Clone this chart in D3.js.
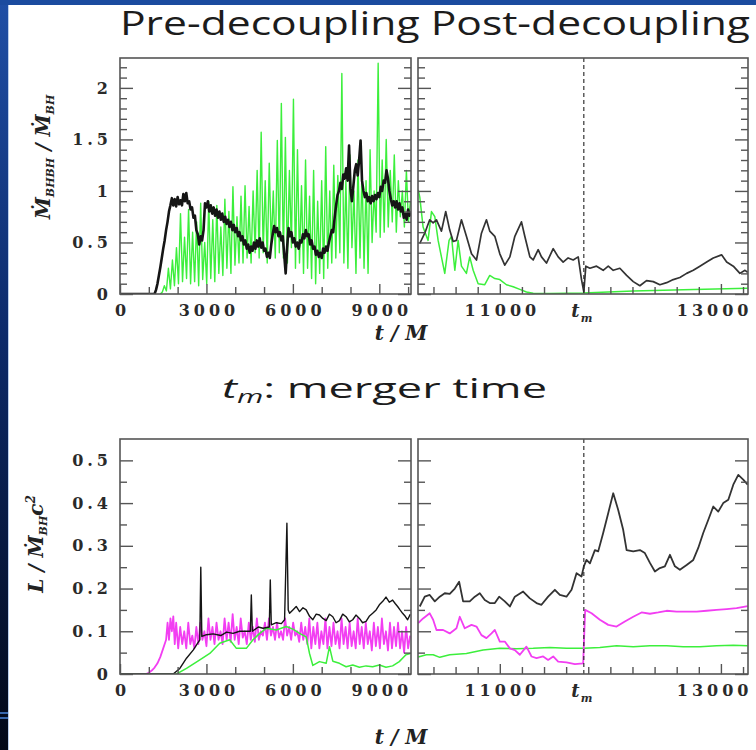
<!DOCTYPE html>
<html><head><meta charset="utf-8">
<script src="https://cdn.jsdelivr.net/npm/d3@7"></script>
<style>body{margin:0;background:#fff;overflow:hidden}</style>
</head><body><svg id="c" width="756" height="750"></svg>
<script>
// ---- time of merger ----
const tMerger = 11760;

// ---- axis ticks ----
const preMajorTicks = [0, 3000, 6000, 9000];
const preMinorTicks = [1000, 2000, 4000, 5000, 7000, 8000, 10000];
const postLabelTicks = [11000, 13000];
const postMinorTicks = [10400, 10600, 10800, 11200, 11400, 11600, 11800, 12000, 12200, 12400, 12600, 12800, 13200];
const accMajorTicks = [0, 0.5, 1, 1.5, 2];
const accMinorTicks = [0.1, 0.2, 0.3, 0.4, 0.6, 0.7, 0.8, 0.9, 1.1, 1.2, 1.3, 1.4, 1.6, 1.7, 1.8, 1.9, 2.1, 2.2];
const lumMajorTicks = [0, 0.1, 0.2, 0.3, 0.4, 0.5];
const lumMinorTicks = [0.05, 0.15, 0.25, 0.35, 0.45];

// ---- accretion rate ratio, pre-decoupling ----
const accBlackPre = [[0,0],[1200,0],[1250,0.04],[1300,0.1],[1350,0.18],[1400,0.26],[1450,0.35],[1500,0.44],[1550,0.52],[1600,0.62],[1650,0.7],[1700,0.8],[1750,0.86],[1800,0.93],[1850,0.86],[1900,0.92],[1950,0.85],[2000,0.94],[2050,0.87],[2100,0.91],[2150,0.86],[2200,0.97],[2250,0.9],[2300,0.98],[2350,0.88],[2400,0.9],[2450,0.82],[2500,0.84],[2550,0.74],[2600,0.76],[2650,0.62],[2700,0.58],[2750,0.48],[2800,0.56],[2850,0.52],[2900,0.62],[2950,0.88],[3000,0.84],[3050,0.9],[3100,0.8],[3150,0.86],[3200,0.78],[3250,0.84],[3300,0.76],[3350,0.82],[3400,0.74],[3450,0.8],[3500,0.72],[3550,0.78],[3600,0.7],[3650,0.75],[3700,0.68],[3750,0.72],[3800,0.65],[3850,0.7],[3900,0.62],[3950,0.67],[4000,0.6],[4050,0.64],[4100,0.56],[4150,0.6],[4200,0.52],[4250,0.56],[4300,0.48],[4350,0.52],[4400,0.44],[4450,0.48],[4500,0.4],[4550,0.46],[4600,0.42],[4650,0.5],[4700,0.44],[4750,0.52],[4800,0.46],[4850,0.54],[4900,0.45],[4950,0.5],[5000,0.42],[5050,0.44],[5100,0.36],[5150,0.4],[5200,0.35],[5250,0.48],[5300,0.58],[5350,0.66],[5400,0.6],[5450,0.64],[5500,0.56],[5550,0.6],[5600,0.52],[5650,0.56],[5700,0.38],[5750,0.2],[5800,0.45],[5850,0.64],[5900,0.56],[5950,0.6],[6000,0.5],[6050,0.54],[6100,0.46],[6150,0.5],[6200,0.44],[6250,0.52],[6300,0.5],[6350,0.58],[6400,0.54],[6450,0.62],[6500,0.56],[6550,0.58],[6600,0.48],[6650,0.52],[6700,0.44],[6750,0.46],[6800,0.38],[6850,0.42],[6900,0.36],[6950,0.4],[7000,0.35],[7050,0.44],[7100,0.4],[7150,0.46],[7200,0.42],[7250,0.5],[7300,0.56],[7350,0.62],[7400,0.6],[7450,0.74],[7500,0.86],[7550,0.96],[7600,1.0],[7650,1.08],[7700,1.02],[7750,1.16],[7800,1.12],[7850,1.22],[7900,1.1],[7950,1.44],[8000,1.02],[8050,0.9],[8100,1.05],[8150,1.2],[8200,1.26],[8250,1.15],[8300,1.3],[8350,1.49],[8400,1.1],[8450,1.0],[8500,0.94],[8550,0.98],[8600,0.9],[8650,0.94],[8700,0.88],[8750,0.95],[8800,0.9],[8850,0.96],[8900,0.92],[8950,0.98],[9000,0.94],[9050,1.04],[9100,1.0],[9150,1.1],[9200,1.08],[9250,1.2],[9300,1.12],[9350,1.0],[9400,0.92],[9450,0.86],[9500,0.9],[9550,0.84],[9600,0.9],[9650,0.82],[9700,0.88],[9750,0.8],[9800,0.84],[9850,0.74],[9900,0.78],[9950,0.72],[10000,0.82],[10050,0.76],[10100,0.8]];

// green curve, sampled every 70 M starting at t = 1400 M
const accGreenPreStart = 1400, accGreenPreStep = 70;
const accGreenPre = [
  0, 0.02, 0.08, 0.03, 0.25, 0.05, 0.33, 0.08, 0.45, 0.1,
  0.78, 0.12, 0.55, 0.15, 0.82, 0.1, 0.6, 0.12, 0.7, 0.08,
  0.88, 0.14, 0.5, 0.1, 0.9, 0.15, 0.72, 0.12, 0.86, 0.2,
  0.65, 0.18, 0.92, 0.25, 0.8, 0.2, 1.04, 0.28, 0.75, 0.3,
  0.95, 0.3, 1.05, 0.35, 0.85, 0.3, 1.0, 0.4, 1.2, 0.35,
  1.57, 0.4, 1.1, 0.3, 1.27, 0.45, 1.0, 0.35, 1.49, 0.4,
  1.85, 0.35, 1.52, 0.3, 1.2, 0.45, 1.89, 0.25, 1.4, 0.3,
  1.05, 0.2, 1.3, 0.25, 0.95, 0.15, 1.2, 0.1, 0.9, 0.2,
  1.1, 0.15, 1.43, 0.25, 1.0, 0.3, 1.25, 0.35, 1.15, 0.4,
  2.14, 0.3, 1.1, 0.25, 1.35, 0.45, 1.0, 0.2, 1.3, 0.35,
  1.2, 0.25, 1.1, 0.2, 1.4, 0.5, 1.0, 0.6, 2.24, 0.55,
  1.3, 0.6, 1.5, 0.65, 1.2, 0.7, 1.35, 0.6, 1.1, 0.75,
  1.0, 0.65, 1.2, 0.7, 0.9];

// ---- accretion rate ratio, post-decoupling ----
const accBlackPost = [[10276,0.49],[10321,0.59],[10366,0.72],[10397,0.69],[10427,0.72],[10472,0.61],[10511,0.8],[10547,0.62],[10578,0.51],[10608,0.52],[10653,0.72],[10698,0.56],[10744,0.39],[10789,0.33],[10834,0.59],[10879,0.72],[10909,0.61],[10955,0.56],[11000,0.39],[11045,0.28],[11091,0.36],[11136,0.56],[11196,0.70],[11226,0.56],[11272,0.36],[11302,0.33],[11347,0.43],[11377,0.36],[11422,0.30],[11483,0.44],[11528,0.36],[11573,0.31],[11618,0.35],[11664,0.33],[11709,0.36],[11739,0.14],[11760,0.02],[11778,0.27],[11815,0.25],[11875,0.27],[11935,0.23],[11981,0.27],[12026,0.23],[12086,0.25],[12147,0.18],[12207,0.12],[12267,0.08],[12327,0.13],[12388,0.12],[12448,0.09],[12509,0.11],[12569,0.14],[12629,0.16],[12690,0.20],[12750,0.23],[12810,0.27],[12871,0.31],[12931,0.35],[13006,0.38],[13052,0.31],[13112,0.27],[13172,0.20],[13218,0.23],[13242,0.21]];

const accGreenPost = [[10262,1.01],[10276,0.94],[10306,0.65],[10351,0.52],[10382,0.8],[10412,0.75],[10442,0.52],[10472,0.36],[10502,0.2],[10541,0.52],[10563,0.56],[10593,0.23],[10623,0.52],[10653,0.27],[10698,0.2],[10728,0.36],[10759,0.23],[10804,0.1],[10864,0.09],[10909,0.18],[10955,0.15],[11000,0.14],[11060,0.09],[11121,0.07],[11181,0.045],[11241,0.02],[11302,0.008],[11453,0.005],[11754,0.01],[12207,0.03],[12659,0.042],[13242,0.055]];

// ---- luminosity, pre-decoupling ----
const lumBlackPre = [[0,0],[1846,0],[2077,0.013],[2308,0.037],[2539,0.056],[2770,0.08],[2804,0.25],[2840,0.088],[3000,0.092],[3231,0.094],[3500,0.09],[3700,0.098],[3924,0.095],[4150,0.1],[4385,0.1],[4524,0.1],[4558,0.185],[4593,0.1],[4800,0.11],[4962,0.107],[5181,0.11],[5216,0.22],[5251,0.115],[5424,0.12],[5600,0.118],[5712,0.127],[5793,0.353],[5839,0.15],[5885,0.142],[6000,0.15],[6116,0.158],[6232,0.146],[6350,0.155],[6462,0.15],[6580,0.135],[6693,0.127],[6810,0.14],[6924,0.138],[7040,0.13],[7155,0.125],[7270,0.14],[7386,0.134],[7500,0.12],[7616,0.125],[7730,0.14],[7847,0.134],[7960,0.122],[8078,0.127],[8190,0.138],[8309,0.13],[8420,0.12],[8540,0.123],[8650,0.135],[8770,0.142],[8890,0.15],[9001,0.162],[9120,0.17],[9232,0.18],[9347,0.168],[9462,0.173],[9550,0.165],[9636,0.158],[9720,0.15],[9809,0.142],[9900,0.135],[9982,0.127],[10074,0.14]];

const lumGreenPre = [[0,0],[1962,0],[2308,0.013],[2770,0.033],[3116,0.048],[3462,0.072],[3808,0.08],[4039,0.06],[4385,0.06],[4616,0.08],[4847,0.095],[5078,0.107],[5424,0.103],[5770,0.111],[6001,0.105],[6232,0.095],[6462,0.087],[6578,0.048],[6693,0.02],[6924,0.029],[7155,0.025],[7270,0.064],[7386,0.03],[7616,0.025],[7847,0.017],[8078,0.021],[8309,0.016],[8540,0.019],[8770,0.017],[9001,0.021],[9232,0.016],[9462,0.019],[9693,0.029],[9924,0.045],[10074,0.048]];

const lumMagentaRise = [[0,0],[900,0],[1000,0.003],[1100,0.008],[1200,0.015],[1300,0.025],[1400,0.04],[1500,0.06],[1600,0.08],[1650,0.12],[1700,0.08],[1750,0.13],[1800,0.1],[1850,0.135],[1900,0.07]];
// magenta curve after the rise, sampled every 70 M starting at t = 1950 M
const lumMagentaStart = 1950, lumMagentaStep = 70;
const lumMagentaPre = [
  0.12, 0.06, 0.11, 0.07, 0.1, 0.06, 0.12, 0.07, 0.09, 0.06,
  0.11, 0.07, 0.12, 0.08, 0.1, 0.065, 0.13, 0.08, 0.11, 0.07,
  0.12, 0.08, 0.1, 0.07, 0.13, 0.08, 0.12, 0.075, 0.14, 0.08,
  0.11, 0.07, 0.13, 0.085, 0.1, 0.07, 0.12, 0.08, 0.11, 0.075,
  0.13, 0.08, 0.1, 0.09, 0.12, 0.08, 0.13, 0.09, 0.11, 0.08,
  0.12, 0.085, 0.1, 0.08, 0.13, 0.09, 0.11, 0.08, 0.12, 0.09,
  0.1, 0.075, 0.12, 0.08, 0.11, 0.07, 0.13, 0.06, 0.11, 0.07,
  0.12, 0.06, 0.1, 0.07, 0.13, 0.06, 0.11, 0.065, 0.12, 0.07,
  0.1, 0.06, 0.13, 0.07, 0.11, 0.06, 0.12, 0.065, 0.1, 0.06,
  0.13, 0.07, 0.11, 0.06, 0.12, 0.07, 0.1, 0.055, 0.12, 0.065,
  0.11, 0.06, 0.13, 0.07, 0.1, 0.055, 0.12, 0.06, 0.11, 0.065,
  0.12, 0.06, 0.1, 0.05, 0.11, 0.06, 0.09];

// ---- luminosity, post-decoupling ----
const lumBlackPost = [[10276,0.158],[10321,0.181],[10366,0.185],[10412,0.17],[10457,0.181],[10502,0.189],[10547,0.1875],[10593,0.2],[10632,0.216],[10668,0.17],[10728,0.17],[10774,0.181],[10819,0.189],[10864,0.173],[10909,0.166],[10955,0.166],[10994,0.181],[11045,0.17],[11091,0.158],[11136,0.181],[11211,0.193],[11272,0.177],[11332,0.166],[11377,0.162],[11437,0.181],[11498,0.197],[11543,0.185],[11603,0.181],[11649,0.197],[11694,0.236],[11739,0.228],[11760,0.252],[11784,0.267],[11815,0.259],[11860,0.29],[11890,0.287],[11935,0.33],[11981,0.377],[12026,0.423],[12071,0.384],[12116,0.3375],[12147,0.29],[12207,0.287],[12267,0.29],[12312,0.283],[12358,0.26],[12403,0.24],[12448,0.248],[12493,0.252],[12539,0.279],[12584,0.252],[12629,0.244],[12690,0.255],[12750,0.267],[12795,0.295],[12840,0.33],[12886,0.361],[12931,0.392],[12976,0.38],[13021,0.4],[13067,0.408],[13112,0.443],[13157,0.466],[13202,0.455],[13242,0.443]];

const lumMagentaPost = [[10262,0.119],[10306,0.13],[10366,0.142],[10397,0.127],[10427,0.103],[10487,0.103],[10547,0.095],[10608,0.107],[10638,0.134],[10683,0.107],[10744,0.115],[10789,0.111],[10834,0.091],[10879,0.084],[10925,0.095],[10955,0.103],[11000,0.076],[11045,0.076],[11091,0.06],[11136,0.056],[11181,0.045],[11241,0.064],[11287,0.041],[11332,0.037],[11392,0.041],[11437,0.033],[11483,0.041],[11528,0.029],[11603,0.027],[11679,0.023],[11754,0.025],[11772,0.15],[11830,0.142],[11905,0.127],[11981,0.115],[12056,0.111],[12131,0.123],[12207,0.134],[12282,0.144],[12358,0.141],[12433,0.144],[12509,0.148],[12599,0.146],[12690,0.146],[12780,0.146],[12871,0.148],[12961,0.15],[13052,0.152],[13142,0.154],[13242,0.159]];

const lumGreenPost = [[10262,0.04],[10336,0.045],[10397,0.045],[10457,0.039],[10547,0.045],[10698,0.048],[10849,0.056],[11000,0.06],[11151,0.059],[11302,0.06],[11453,0.062],[11603,0.06],[11760,0.06],[11905,0.062],[12056,0.066],[12207,0.064],[12358,0.066],[12509,0.066],[12659,0.064],[12810,0.064],[12961,0.066],[13112,0.067],[13242,0.066]];

// ---- helpers ----
const sampled = (start, step, vals) => vals.map((v, i) => [start + i * step, v]);

const W = 756;
const svg = d3.select("#c");
const C = { black: "#151515", green: "#3cef3c", magenta: "#f23ef2", frame: "#555" };
const tickFont = "'DejaVu Serif', serif";

// slide background strips
const defs = svg.append("defs");
const lg = defs.append("linearGradient").attr("id", "edge").attr("x1", 0).attr("y1", 0).attr("x2", 0).attr("y2", 1);
lg.append("stop").attr("offset", "0%").attr("stop-color", "#1f4fa6");
lg.append("stop").attr("offset", "45%").attr("stop-color", "#0c2a6a");
lg.append("stop").attr("offset", "100%").attr("stop-color", "#020818");
svg.append("rect").attr("x", 0).attr("y", 0).attr("width", 756).attr("height", 750).attr("fill", "#fff");
svg.append("rect").attr("x", 0).attr("y", 0).attr("width", 8).attr("height", 750).attr("fill", "url(#edge)");
svg.append("rect").attr("x", 0).attr("y", 0).attr("width", 756).attr("height", 5).attr("fill", "#1b4b9f");
svg.append("line").attr("x1", 8.5).attr("x2", 8.5).attr("y1", 5).attr("y2", 750).attr("stroke", "#9dbbe6").attr("stroke-width", 1).attr("opacity", 0.7);
[713, 718].forEach(y => svg.append("line").attr("x1", 0).attr("x2", 8).attr("y1", y).attr("y2", y).attr("stroke", "#4a86dc").attr("stroke-width", 1.5));

// title & caption
svg.append("text").attr("x", 120).attr("y", 35)
  .attr("font-family", "'Open Sans', sans-serif").attr("font-size", 32).attr("fill", "#1c1c1c")
  .attr("textLength", 630).attr("lengthAdjust", "spacingAndGlyphs")
  .text("Pre-decoupling Post-decoupling");

const cap = svg.append("text").attr("x", 222).attr("y", 398)
  .attr("font-family", "'Open Sans', sans-serif").attr("font-size", 27).attr("fill", "#1c1c1c")
  .attr("textLength", 325).attr("lengthAdjust", "spacingAndGlyphs");
cap.append("tspan").attr("font-style", "italic").text("t");
cap.append("tspan").attr("font-style", "italic").attr("font-size", 18).attr("dy", 5).text("m");
cap.append("tspan").attr("dy", -5).text(":  merger time");

// ---- panel builder ----
function panel(cfg) {
  const x = d3.scaleLinear().domain(cfg.xd).range(cfg.xr);
  const y = d3.scaleLinear().domain(cfg.yd).range(cfg.yr);
  const g = svg.append("g");
  const id = "clip" + cfg.id;
  defs.append("clipPath").attr("id", id).append("rect")
    .attr("x", cfg.xr[0]).attr("y", cfg.yr[1]).attr("width", cfg.xr[1] - cfg.xr[0]).attr("height", cfg.yr[0] - cfg.yr[1]);

  const plot = g.append("g").attr("clip-path", `url(#${id})`);
  const line = d3.line().x(d => x(d[0])).y(d => y(d[1]));
  cfg.series.forEach(s => {
    plot.append("path").attr("d", line(s.data)).attr("fill", "none")
      .attr("stroke", s.color).attr("stroke-width", s.w).attr("stroke-linejoin", "round");
  });
  if (cfg.merger) {
    plot.append("line").attr("x1", x(tMerger)).attr("x2", x(tMerger)).attr("y1", cfg.yr[1]).attr("y2", cfg.yr[0])
      .attr("stroke", "#222").attr("stroke-width", 1.1).attr("stroke-dasharray", "4,3");
  }

  const styleAxis = sel => {
    sel.select(".domain").remove();
    sel.selectAll("line").attr("stroke", C.frame).attr("stroke-width", 1.4);
    sel.selectAll("text").attr("font-family", tickFont).attr("font-weight", "bold")
      .attr("font-size", 16).attr("fill", "#2a2a2a").style("letter-spacing", "4px");
  };
  const by = cfg.yr[0], lx = cfg.xr[0], rx = cfg.xr[1];
  // x axis
  g.append("g").attr("transform", `translate(0,${by})`)
    .call(d3.axisBottom(x).tickValues(cfg.xMinor).tickSize(-7).tickFormat("")).call(styleAxis);
  const xa = g.append("g").attr("transform", `translate(0,${by})`)
    .call(d3.axisBottom(x).tickValues(cfg.xMajor).tickSize(-10).tickPadding(11).tickFormat(d3.format("d"))).call(styleAxis);
  // keep the rightmost label inside the page
  xa.selectAll("text").attr("dx", function () {
    const b = this.getBBox();
    const right = x(d3.select(this).datum()) + b.width / 2;
    return right > W - 4 ? (W - 4 - right) : 2;
  });
  if (cfg.merger) {
    const t = g.append("text").attr("x", x(tMerger) - 2).attr("y", by + 23)
      .attr("font-family", tickFont).attr("font-weight", "bold").attr("font-style", "italic")
      .attr("font-size", 18).attr("fill", "#2a2a2a").attr("text-anchor", "middle");
    t.append("tspan").text("t");
    t.append("tspan").attr("font-size", 11).attr("dy", 5).attr("dx", 1).text("m");
  }
  // y axes (inward ticks on both sides)
  g.append("g").attr("transform", `translate(${lx},0)`)
    .call(d3.axisLeft(y).tickValues(cfg.yMajor).tickSize(-13).tickPadding(cfg.showY ? 8 : 0)
      .tickFormat(cfg.showY ? cfg.yFmt : "")).call(styleAxis);
  g.append("g").attr("transform", `translate(${lx},0)`)
    .call(d3.axisLeft(y).tickValues(cfg.yMinor).tickSize(-7).tickFormat("")).call(styleAxis);
  g.append("g").attr("transform", `translate(${rx},0)`)
    .call(d3.axisRight(y).tickValues(cfg.yMajor).tickSize(-13).tickFormat("")).call(styleAxis);
  g.append("g").attr("transform", `translate(${rx},0)`)
    .call(d3.axisRight(y).tickValues(cfg.yMinor).tickSize(-7).tickFormat("")).call(styleAxis);
  // frame
  g.append("rect").attr("x", lx).attr("y", cfg.yr[1]).attr("width", rx - lx).attr("height", by - cfg.yr[1])
    .attr("fill", "none").attr("stroke", C.frame).attr("stroke-width", 1.6);
  return { x, y };
}

const accFmt = d => d === 0 ? "0" : d3.format("~g")(d);
const lumFmt = d => d === 0 ? "0" : d3.format(".1f")(d);

panel({ id: "a", xd: [0, 10100], xr: [120, 411], yd: [0, 2.29], yr: [294, 58],
  xMajor: preMajorTicks, xMinor: preMinorTicks, yMajor: accMajorTicks, yMinor: accMinorTicks, showY: true, yFmt: accFmt,
  series: [
    { data: sampled(accGreenPreStart, accGreenPreStep, accGreenPre), color: C.green, w: 1.4 },
    { data: accBlackPre, color: C.black, w: 2.6 }
  ] });
panel({ id: "b", xd: [10260, 13245], xr: [418, 748], yd: [0, 2.29], yr: [294, 58],
  xMajor: postLabelTicks, xMinor: postMinorTicks, yMajor: accMajorTicks, yMinor: accMinorTicks, showY: false, merger: true,
  series: [
    { data: accGreenPost, color: C.green, w: 1.5 },
    { data: accBlackPost, color: "#333", w: 1.7 }
  ] });
panel({ id: "c", xd: [0, 10100], xr: [120, 411], yd: [0, 0.55], yr: [674, 439],
  xMajor: preMajorTicks, xMinor: preMinorTicks, yMajor: lumMajorTicks, yMinor: lumMinorTicks, showY: true, yFmt: lumFmt,
  series: [
    { data: lumMagentaRise.concat(sampled(lumMagentaStart, lumMagentaStep, lumMagentaPre)), color: C.magenta, w: 1.8 },
    { data: lumGreenPre, color: C.green, w: 1.5 },
    { data: lumBlackPre, color: C.black, w: 1.4 }
  ] });
panel({ id: "d", xd: [10260, 13245], xr: [418, 748], yd: [0, 0.55], yr: [674, 439],
  xMajor: postLabelTicks, xMinor: postMinorTicks, yMajor: lumMajorTicks, yMinor: lumMinorTicks, showY: false, merger: true,
  series: [
    { data: lumGreenPost, color: C.green, w: 1.5 },
    { data: lumMagentaPost, color: C.magenta, w: 1.8 },
    { data: lumBlackPost, color: "#333", w: 1.8 }
  ] });

// axis titles
const labFont = "'DejaVu Serif', serif";
function axisTitle(xp, yp, rot, parts) {
  const t = svg.append("text").attr("transform", `translate(${xp},${yp}) rotate(${rot})`)
    .attr("text-anchor", "middle").attr("font-family", labFont).attr("font-weight", "bold")
    .attr("font-style", "italic").attr("fill", "#222").attr("font-size", 20);
  parts.forEach(p => {
    const s = t.append("tspan").text(p.t);
    if (p.fs) s.attr("font-size", p.fs);
    if (p.dy) s.attr("dy", p.dy);
  });
}
axisTitle(401, 340, 0, [{ t: "t / M" }]);
axisTitle(401, 744, 0, [{ t: "t / M" }]);
axisTitle(50, 157, -90, [{ t: "Ṁ" }, { t: "BHBH", fs: 11, dy: 4 }, { t: " / ", dy: -4 }, { t: "Ṁ" }, { t: "BH", fs: 11, dy: 4 }]);
axisTitle(43, 544, -90, [{ t: "L / Ṁ" }, { t: "BH", fs: 11, dy: 4 }, { t: "c", dy: -4 }, { t: "2", fs: 12, dy: -8 }]);
</script></body></html>
